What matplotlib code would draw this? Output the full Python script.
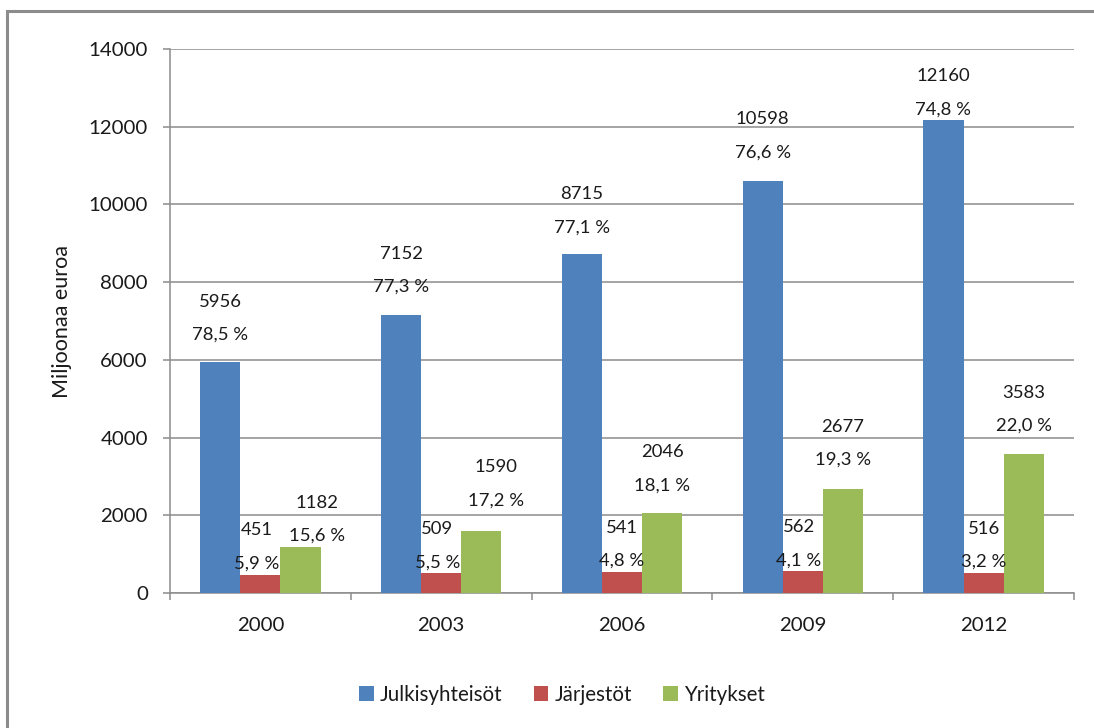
import matplotlib
matplotlib.use("Agg")
import matplotlib.pyplot as plt
from matplotlib.patches import Patch, Rectangle
import numpy as np

plt.rcParams["font.family"] = ["Lato", "DejaVu Sans"]

years = ["2000", "2003", "2006", "2009", "2012"]
series = ["Julkisyhteisöt", "Järjestöt", "Yritykset"]
julkisyhteisot = [5956, 7152, 8715, 10598, 12160]
jarjestot = [451, 509, 541, 562, 516]
yritykset = [1182, 1590, 2046, 2677, 3583]
julkisyhteisot_pct = [78.5, 77.3, 77.1, 76.6, 74.8]
jarjestot_pct = [5.9, 5.5, 4.8, 4.1, 3.2]
yritykset_pct = [15.6, 17.2, 18.1, 19.3, 22.0]

colors = ["#4F81BD", "#C0504D", "#9BBB59"]
grey = "#8C8C8C"
text_col = "#1a1a1a"

# label nudges in pixels (Excel labels were moved by hand in a few places)
lift = [[27, 28, 27, 29, 11],
        [12, 11, 11, 11, 11],
        [11, 31, 28, 29, 28]]
shift = [[0, 0, 0, 0, 0],
         [-4, -4, 0, -4, 0],
         [17, 15, 0, 0, 0]]

values = [julkisyhteisot, jarjestot, yritykset]
shares = [julkisyhteisot_pct, jarjestot_pct, yritykset_pct]

fig = plt.figure(figsize=(10.94, 7.28), dpi=100)
ax = fig.add_axes([170 / 1094, 1 - 593 / 728, 904 / 1094, 544 / 728])

# outer chart frame (cropped screenshot: only top and left visible)
fig.patches.append(Rectangle((7 / 1094, -0.1), 1.2, 1 - 11 / 728 + 0.1,
                             transform=fig.transFigure, fill=False,
                             edgecolor=grey, linewidth=2.2))

x = np.arange(len(years))
w = 0.222
px = 72 / 100
for i, (vals, pcts) in enumerate(zip(values, shares)):
    xs = x + (i - 1) * w
    ax.bar(xs, vals, width=w, color=colors[i], label=series[i], zorder=3)
    for j, (xv, v, p) in enumerate(zip(xs, vals, pcts)):
        dx = shift[i][j] * px
        dy = lift[i][j] * px
        ax.annotate(f"{p:.1f} %".replace(".", ","), (xv, v),
                    xytext=(dx, dy), textcoords="offset points",
                    ha="center", va="center", fontsize=13.3, color=text_col,
                    zorder=5)
        ax.annotate(str(v), (xv, v),
                    xytext=(dx, dy + 33 * px), textcoords="offset points",
                    ha="center", va="center", fontsize=13.3, color=text_col,
                    zorder=5)

ax.set_xlim(-0.5, len(years) - 0.5)
ax.set_ylim(0, 14000)
ax.set_yticks(np.arange(0, 14001, 2000))
ax.set_xticks(x)
ax.set_xticklabels(years)
ax.set_xticks(np.arange(-0.5, len(years), 1), minor=True)

ax.grid(axis="y", color=grey, linewidth=1.1, zorder=0)
for s in ["top", "right"]:
    ax.spines[s].set_visible(False)
for s in ["left", "bottom"]:
    ax.spines[s].set_color(grey)
    ax.spines[s].set_linewidth(1.1)

ax.tick_params(axis="y", length=5, color=grey, width=1.1, pad=11,
               labelsize=14.7, labelcolor=text_col)
ax.tick_params(axis="x", which="major", length=0, pad=17,
               labelsize=14.7, labelcolor=text_col)
ax.tick_params(axis="x", which="minor", length=5, color=grey, width=1.1)

fig.text(62 / 1094, 1 - 322 / 728, "Miljoonaa euroa", rotation=90,
         ha="center", va="center", fontsize=15.5, color=text_col)

handles = [Patch(facecolor=c, edgecolor="none") for c in colors]
fig.legend(handles, series, loc="center",
           bbox_to_anchor=(562 / 1094, 1 - 695 / 728), ncol=3, frameon=False,
           fontsize=14.8, handlelength=0.72, handleheight=0.72,
           handletextpad=0.3, columnspacing=1.5, labelcolor=text_col)

fig.savefig("out.png", dpi=100)
